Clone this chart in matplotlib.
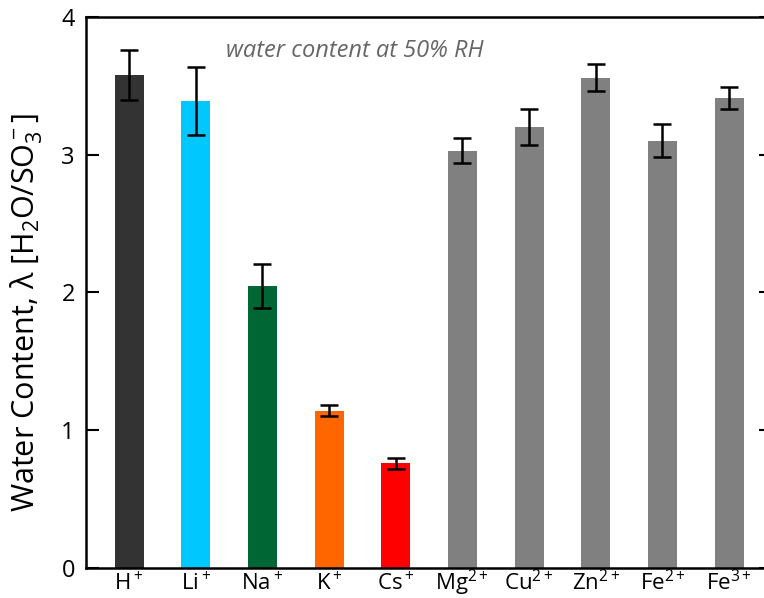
import matplotlib
matplotlib.use('Agg')
import matplotlib.pyplot as plt
import numpy as np

plt.rcParams['font.family'] = ['Open Sans', 'DejaVu Sans']
plt.rcParams['mathtext.fontset'] = 'custom'
plt.rcParams['mathtext.rm'] = 'Open Sans'
plt.rcParams['mathtext.it'] = 'Open Sans:italic'
plt.rcParams['mathtext.sf'] = 'Open Sans'
plt.rcParams['mathtext.default'] = 'rm'

# data
ions = ['H$^+$', 'Li$^+$', 'Na$^+$', 'K$^+$', 'Cs$^+$',
        'Mg$^{2+}$', 'Cu$^{2+}$', 'Zn$^{2+}$', 'Fe$^{2+}$', 'Fe$^{3+}$']
lam = [3.58, 3.39, 2.05, 1.14, 0.76, 3.03, 3.20, 3.56, 3.10, 3.41]
lam_err = [0.18, 0.25, 0.16, 0.04, 0.04, 0.09, 0.13, 0.10, 0.12, 0.08]
colors = ['#333333', '#00c8ff', '#006633', '#ff6600', '#ff0000',
          '#808080', '#808080', '#808080', '#808080', '#808080']

fig = plt.figure(figsize=(7.64, 5.98), dpi=100)
# right edge of the axes falls just past the image, as in the reference crop
ax = fig.add_axes([0.1126, 0.0502, 0.8967, 0.9214])

x = np.arange(len(ions))
ax.bar(x, lam, width=0.435, color=colors, zorder=2)
ax.errorbar(x, lam, yerr=lam_err, fmt='none', ecolor='black',
            elinewidth=1.8, capsize=6.8, capthick=1.8, zorder=3)

ax.set_xlim(-0.645, 9.63)
ax.set_ylim(0, 4)
ax.set_yticks([0, 1, 2, 3, 4])
ax.set_xticks(x)
ax.set_xticklabels(ions, fontsize=16)
# common baseline for the ion labels
for lbl in ax.get_xticklabels():
    lbl.set_va('baseline')
ax.tick_params(axis='x', length=0, pad=16)
ax.tick_params(axis='y', direction='in', length=9, width=1.5, labelsize=17,
               pad=8, right=True)
for s in ax.spines.values():
    s.set_linewidth(1.8)
ax.spines['right'].set_visible(False)

ax.set_ylabel('Water Content, λ [H$_2$O/SO$_3^-$]', fontsize=22)
ax.yaxis.set_label_coords(-0.06, 0.463)

ax.text(3.39, 3.75, 'water content at 50% RH', fontsize=17, style='italic',
        color='#666666', ha='center', va='center')

fig.savefig('out.png', dpi=100)
